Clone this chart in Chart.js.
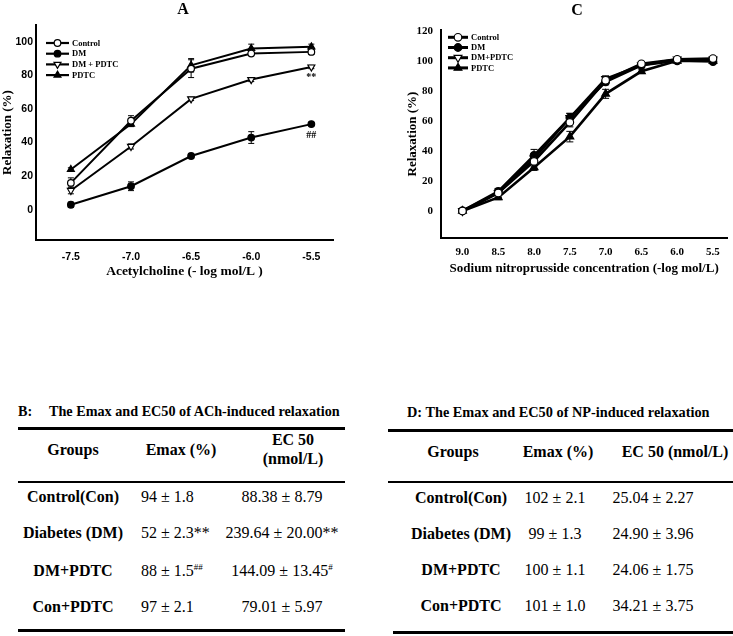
<!DOCTYPE html>
<html>
<head>
<meta charset="utf-8">
<script src="https://cdn.jsdelivr.net/npm/chart.js@4.4.0/dist/chart.umd.min.js"></script>
<style>
  body { margin: 0; background: #fff; }
  #page { position: relative; width: 733px; height: 636px; background: #fff; overflow: hidden; }
  canvas { position: absolute; top: 0; }
  .t { position: absolute; white-space: nowrap; line-height: 1; color: #000; font-family: "Liberation Serif", "Times New Roman", serif; }
  .rule { position: absolute; background: #000; }
  sup { font-size: 9px; vertical-align: 6px; line-height: 0; }
</style>
</head>
<body>
<div id="page">
  <canvas id="chartA" width="370" height="300" style="left:0px"></canvas>
  <canvas id="chartC" width="333" height="300" style="left:400px"></canvas>
</div>
<script>
// ---- panel A: acetylcholine ----
const xA = [-7.5, -7.0, -6.5, -6.0, -5.5];
const controlA = [16, 53, 84, 93, 94];
const controlAErr = [3, 3, 5.3, 1, 1.5];
const dmA = [3, 14, 32, 43, 51];
const dmAErr = [1.5, 2.6, 1.5, 3.5, 1];
const dmPdtcA = [11.5, 37.7, 66, 77.5, 85];
const dmPdtcAErr = [2, 1.5, 1, 1.2, 1];
const pdtcA = [24, 51, 86, 96, 97];
const pdtcAErr = [1, 1.5, 4, 2.6, 1.6];
const yTicksA = [0, 20, 40, 60, 80, 100];
const annotA = [{ x: -5.5, y: 79, text: "**" }, { x: -5.5, y: 44.5, text: "##" }];

// ---- panel C: sodium nitroprusside ----
const xC = [9.0, 8.5, 8.0, 7.5, 7.0, 6.5, 6.0, 5.5];
const controlC = [0, 12, 33, 59, 87, 98, 101, 101.5];
const controlCErr = [0.5, 3, 3, 3, 2, 1.5, 1, 1];
const dmC = [0, 13, 37, 62, 86, 97, 100, 99.5];
const dmCErr = [0.5, 2, 4, 3, 2, 1, 1, 1];
const dmPdtcC = [0, 12, 35, 62, 88, 97, 101, 101];
const dmPdtcCErr = [0.5, 2, 3, 3, 2, 1, 1, 1];
const pdtcC = [0, 9, 29, 49.5, 78, 93, 100, 100];
const pdtcCErr = [0.5, 1.5, 2, 3.5, 3, 1.5, 1, 1];
const yTicksC = [0, 20, 40, 60, 80, 100, 120];

// ---- tables ----
const groupsB = ["Control(Con)", "Diabetes (DM)", "DM+PDTC", "Con+PDTC"];
const emaxB = ["94 ± 1.8", "52 ± 2.3**", "88 ± 1.5", "97 ± 2.1"];
const emaxBSup = ["", "", "##", ""];
const ec50B = ["88.38 ± 8.79", "239.64 ± 20.00**", "144.09 ± 13.45", "79.01 ± 5.97"];
const ec50BSup = ["", "", "#", ""];
const groupsD = ["Control(Con)", "Diabetes (DM)", "DM+PDTC", "Con+PDTC"];
const emaxD = ["102 ± 2.1", "99 ± 1.3", "100 ± 1.1", "101 ± 1.0"];
const ec50D = ["25.04 ± 2.27", "24.90 ± 3.96", "24.06 ± 1.75", "34.21 ± 3.75"];

const serif = '"Liberation Serif", "Times New Roman", serif';
const sans = '"Liberation Sans", Arial, sans-serif';

function pts(xs, ys) {
  return xs.map((x, i) => ({ x: x, y: ys[i] }));
}

function series(label, xs, ys, errs, style, filled, rot, radius, width) {
  return {
    label: label,
    data: pts(xs, ys),
    errors: errs,
    borderColor: "#000",
    backgroundColor: "#000",
    borderWidth: width,
    pointStyle: style,
    pointRotation: rot,
    pointRadius: radius,
    pointBorderWidth: 1.2,
    pointBorderColor: "#000",
    pointBackgroundColor: filled ? "#000" : "#fff",
    tension: 0,
    fill: false,
  };
}

// error bars drawn through the chart's own scales
const errorBars = {
  id: "errorBars",
  beforeDatasetsDraw(chart, args, opts) {
    const ctx = chart.ctx;
    const y = chart.scales.y;
    ctx.save();
    ctx.strokeStyle = "#000";
    ctx.lineWidth = 1;
    chart.data.datasets.forEach((ds, i) => {
      const meta = chart.getDatasetMeta(i);
      meta.data.forEach((pt, j) => {
        const e = ds.errors[j];
        const v = ds.data[j].y;
        const top = y.getPixelForValue(v + e);
        const bot = y.getPixelForValue(v - e);
        const cap = opts.cap || 3;
        ctx.beginPath();
        ctx.moveTo(pt.x, top); ctx.lineTo(pt.x, bot);
        ctx.moveTo(pt.x - cap, top); ctx.lineTo(pt.x + cap, top);
        ctx.moveTo(pt.x - cap, bot); ctx.lineTo(pt.x + cap, bot);
        ctx.stroke();
      });
    });
    ctx.restore();
  }
};

function drawMarker(ctx, style, rot, r, fill, x, y) {
  ctx.beginPath();
  if (style === "circle") {
    ctx.arc(x, y, r, 0, Math.PI * 2);
  } else {
    let rad = rot * Math.PI / 180;
    ctx.moveTo(x + Math.sin(rad) * r, y - Math.cos(rad) * r);
    rad += Math.PI * 2 / 3;
    ctx.lineTo(x + Math.sin(rad) * r, y - Math.cos(rad) * r);
    rad += Math.PI * 2 / 3;
    ctx.lineTo(x + Math.sin(rad) * r, y - Math.cos(rad) * r);
    ctx.closePath();
  }
  ctx.fillStyle = fill;
  ctx.fill();
  ctx.lineWidth = 1.2;
  ctx.strokeStyle = "#000";
  ctx.stroke();
}

// legend inside the plot area, top left
const insideLegend = {
  id: "insideLegend",
  afterDraw(chart, args, o) {
    const ctx = chart.ctx;
    const a = chart.chartArea;
    ctx.save();
    ctx.font = "bold " + o.size + "px " + serif;
    ctx.textBaseline = "middle";
    ctx.fillStyle = "#000";
    chart.data.datasets.forEach((ds, i) => {
      const yy = a.top + o.top + i * o.gap;
      const x0 = a.left + o.left;
      ctx.beginPath();
      ctx.moveTo(x0, yy); ctx.lineTo(x0 + o.len, yy);
      ctx.lineWidth = o.lineWidth;
      ctx.strokeStyle = "#000";
      ctx.stroke();
      drawMarker(ctx, ds.pointStyle, ds.pointRotation, ds.pointRadius, ds.pointBackgroundColor, x0 + o.len / 2, yy);
      ctx.fillStyle = "#000";
      ctx.fillText(ds.label, x0 + o.len + 3, yy + 0.5);
    });
    ctx.restore();
  }
};

const annotations = {
  id: "annotations",
  afterDraw(chart, args, o) {
    if (!o.items) return;
    const ctx = chart.ctx;
    ctx.save();
    ctx.font = "bold 10px " + serif;
    ctx.textAlign = "center";
    ctx.textBaseline = "middle";
    ctx.fillStyle = "#000";
    o.items.forEach(it => {
      ctx.fillText(it.text, chart.scales.x.getPixelForValue(it.x), chart.scales.y.getPixelForValue(it.y));
    });
    ctx.restore();
  }
};

function axis(opts) {
  return Object.assign({
    type: "linear",
    grid: { display: false, drawTicks: false },
    border: { display: true, color: "#000", width: 2 },
  }, opts);
}

const chartA = new Chart(document.getElementById("chartA"), {
  type: "line",
  data: {
    datasets: [
      series("Control", xA, controlA, controlAErr, "circle", false, 0, 3.3, 2),
      series("DM", xA, dmA, dmAErr, "circle", true, 0, 3.3, 2),
      series("DM + PDTC", xA, dmPdtcA, dmPdtcAErr, "triangle", false, 180, 4, 2),
      series("PDTC", xA, pdtcA, pdtcAErr, "triangle", true, 0, 4, 2),
    ],
  },
  options: {
    responsive: false,
    animation: false,
    devicePixelRatio: 1,
    layout: { padding: { top: 25, right: 37, left: 0, bottom: 0 } },
    plugins: {
      legend: { display: false },
      tooltip: { enabled: false },
      errorBars: { cap: 3 },
      insideLegend: { left: 10, top: 18, gap: 10.7, len: 23, size: 8.5, lineWidth: 2.2 },
      annotations: { items: annotA },
    },
    scales: {
      x: axis({
        min: -7.79, max: -5.32,
        afterBuildTicks: s => { s.ticks = xA.map(v => ({ value: v })); },
        afterFit: s => { s.height = 60; },
        ticks: { padding: 10.4, color: "#000", autoSkip: false, maxRotation: 0,
          font: { family: sans, size: 10.5, weight: "bold" }, callback: v => v.toFixed(1) },
        title: { display: true, text: "Acetylcholine (- log mol/L )", color: "#000",
          font: { family: serif, size: 13.5, weight: "bold" }, padding: { top: 0, bottom: 20 } },
      }),
      y: axis({
        min: -18, max: 110,
        afterBuildTicks: s => { s.ticks = yTicksA.map(v => ({ value: v })); },
        afterFit: s => { s.width = 36; },
        ticks: { padding: 3, color: "#000", font: { family: sans, size: 10.5, weight: "bold" } },
        title: { display: true, text: "Relaxation (%)", color: "#000",
          font: { family: serif, size: 13, weight: "bold" }, padding: { top: 0, bottom: 0 } },
      }),
    },
  },
  plugins: [errorBars, insideLegend, annotations],
});

const chartC = new Chart(document.getElementById("chartC"), {
  type: "line",
  data: {
    datasets: [
      series("Control", xC, controlC, controlCErr, "circle", false, 0, 3.8, 2.6),
      series("DM", xC, dmC, dmCErr, "circle", true, 0, 3.8, 2.6),
      series("DM+PDTC", xC, dmPdtcC, dmPdtcCErr, "triangle", false, 180, 4.5, 2.6),
      series("PDTC", xC, pdtcC, pdtcCErr, "triangle", true, 0, 4.5, 2.6),
    ],
  },
  options: {
    responsive: false,
    animation: false,
    devicePixelRatio: 1,
    layout: { padding: { top: 30, right: 4, left: 0, bottom: 0 } },
    plugins: {
      legend: { display: false },
      tooltip: { enabled: false },
      errorBars: { cap: 3.5 },
      insideLegend: { left: 7, top: 7.3, gap: 10.2, len: 20, size: 8.5, lineWidth: 3 },
      annotations: {},
    },
    scales: {
      x: axis({
        min: 5.3, max: 9.3, reverse: true,
        afterBuildTicks: s => { s.ticks = xC.map(v => ({ value: v })); },
        afterFit: s => { s.height = 62; },
        ticks: { padding: 7.7, color: "#000", autoSkip: false, maxRotation: 0,
          font: { family: serif, size: 11, weight: "bold" }, callback: v => v.toFixed(1) },
        title: { display: true, text: "Sodium nitroprusside concentration (-log mol/L)", color: "#000",
          font: { family: serif, size: 13, weight: "bold" }, padding: { top: 0, bottom: 24 } },
      }),
      y: axis({
        min: -18, max: 120.5,
        afterBuildTicks: s => { s.ticks = yTicksC.map(v => ({ value: v })); },
        afterFit: s => { s.width = 41; },
        ticks: { padding: 8, color: "#000", font: { family: serif, size: 11, weight: "bold" } },
        title: { display: true, text: "Relaxation (%)", color: "#000",
          font: { family: serif, size: 13, weight: "bold" }, padding: { top: 5, bottom: 0 } },
      }),
    },
  },
  plugins: [errorBars, insideLegend, annotations],
});

// ---- HTML text: panel letters and the two tables ----
const page = document.getElementById("page");

function txt(html, x, y, size, bold, anchor) {
  const d = document.createElement("div");
  d.className = "t";
  d.innerHTML = html;
  d.style.fontSize = size + "px";
  d.style.fontWeight = bold ? "bold" : "normal";
  d.style.left = x + "px";
  d.style.top = y + "px";
  d.style.transform = anchor === "left" ? "translate(0,-50%)" : "translate(-50%,-50%)";
  page.appendChild(d);
}

function rule(x1, x2, y, h) {
  const d = document.createElement("div");
  d.className = "rule";
  d.style.left = x1 + "px";
  d.style.width = (x2 - x1) + "px";
  d.style.top = (y - h / 2) + "px";
  d.style.height = h + "px";
  page.appendChild(d);
}

txt("A", 183, 9, 16, true);
txt("C", 577, 10, 16, true);

// table B
txt("B:", 18, 411, 14.2, true, "left");
txt("The Emax and EC50 of ACh-induced relaxation", 49, 411, 14.2, true, "left");
rule(18, 345, 428, 3);
rule(18, 345, 482, 2.5);
rule(18, 345, 630, 3);
txt("Groups", 73, 450, 16, true);
txt("Emax (%)", 181, 450, 16, true);
txt("EC 50", 293, 440, 16, true);
txt("(nmol/L)", 293, 459, 16, true);
const rowsB = [497, 533, 571, 607];
groupsB.forEach((g, i) => {
  txt(g, 73, rowsB[i], 16, true);
  txt(emaxB[i] + (emaxBSup[i] ? "<sup>" + emaxBSup[i] + "</sup>" : ""), 141, rowsB[i], 16, false, "left");
  txt(ec50B[i] + (ec50BSup[i] ? "<sup>" + ec50BSup[i] + "</sup>" : ""), 282, rowsB[i], 16, false);
});

// table D
txt("D: The Emax and EC50 of NP-induced relaxation", 407, 412, 14.3, true, "left");
rule(388, 733, 430, 3);
rule(388, 733, 482, 2.5);
rule(393, 733, 632, 3);
txt("Groups", 453, 452, 16, true);
txt("Emax (%)", 558, 452, 16, true);
txt("EC 50 (nmol/L)", 675, 452, 16, true);
const rowsD = [498, 534, 570, 606];
groupsD.forEach((g, i) => {
  txt(g, 461, rowsD[i], 16, true);
  txt(emaxD[i], 555, rowsD[i], 16, false);
  txt(ec50D[i], 653, rowsD[i], 16, false);
});
</script>
</body>
</html>
